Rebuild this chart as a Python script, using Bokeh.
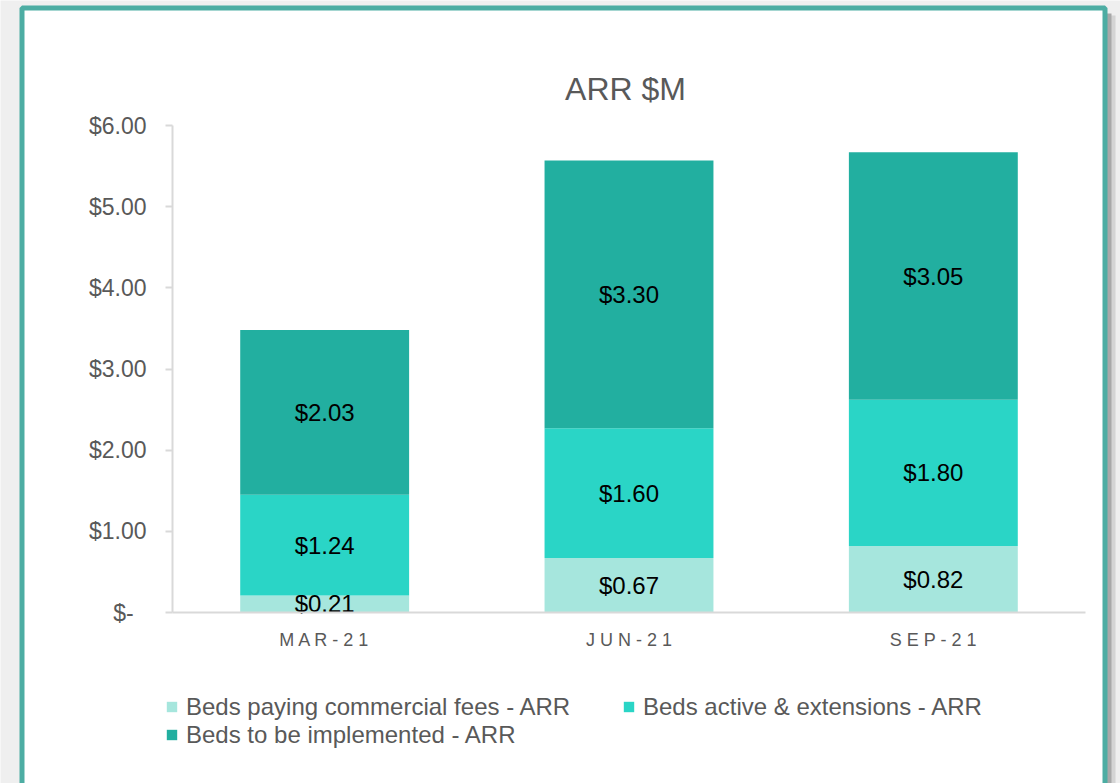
from bokeh.plotting import figure
from bokeh.models import (ColumnDataSource, Legend, LegendItem, Label, BoxAnnotation,
                          Range1d, FixedTicker)
from bokeh.embed import file_html
from bokeh.resources import INLINE
from bokeh.core.properties import value

# ---- data ----
periods = ["MAR-21", "JUN-21", "SEP-21"]
series_names = ["Beds paying commercial fees - ARR",
                "Beds active & extensions - ARR",
                "Beds to be implemented - ARR"]
paying = [0.21, 0.67, 0.82]
active = [1.24, 1.60, 1.80]
to_implement = [2.03, 3.30, 3.05]
y_ticks = [0, 1, 2, 3, 4, 5, 6]
y_tick_labels = ["$-\u00a0\u00a0", "$1.00", "$2.00", "$3.00", "$4.00", "$5.00", "$6.00"]
title_text = "ARR $M"

colors = ["#a6e6dd", "#2ad5c6", "#22afa0"]
FONT = "Liberation Sans"
GREY_TEXT = "#595959"
AXIS_GREY = "#d9d9d9"

keys = ["paying", "active", "to_implement"]
positions = list(range(len(periods)))
src = ColumnDataSource(dict(pos=positions, paying=paying, active=active,
                            to_implement=to_implement))

# ---- layout (canvas pixels) ----
W, H = 1120, 783
PL, PR, PT, PB = 172, 1085, 125, 612   # plot area inside the card
YMAX = y_ticks[-1]
n = len(periods)
px_x = (PR - PL) / n
px_y = (PB - PT) / YMAX
x_lo = -0.5 - PL / px_x
x_hi = n - 0.5 + (W - PR) / px_x
y_hi = YMAX + PT / px_y
y_lo = -(H - PB) / px_y

p = figure(width=W, height=H, x_range=Range1d(x_lo, x_hi), y_range=Range1d(y_lo, y_hi),
           output_backend="svg", toolbar_location=None,
           min_border_left=0, min_border_right=0, min_border_top=0, min_border_bottom=0)
p.title.text = ""
p.border_fill_color = "#efefef"
p.background_fill_color = "#efefef"
p.outline_line_color = None
p.xgrid.visible = False
p.ygrid.visible = False

# card with shadow and teal border (screen units, relative to the frame = canvas)
sy = lambda cy: H - cy
def box(l, r, t, b, **kw):
    return BoxAnnotation(left=l, right=r, top=sy(t), bottom=sy(b),
                         left_units="screen", right_units="screen",
                         top_units="screen", bottom_units="screen",
                         level="underlay", **kw)
p.add_layout(box(40, 1115, 15, 840, fill_color="#d4d4d4", fill_alpha=1,
                 line_color=None))
p.add_layout(box(40, 1111, 13, 840, fill_color="#a8a8a8", fill_alpha=1,
                 line_color=None))
p.add_layout(box(21.5, 1104.5, 7.5, 840, fill_color="white", fill_alpha=1,
                 line_color="#4dada3", line_alpha=1, line_width=5))

renderers = p.vbar_stack(keys, x="pos", width=0.555, color=colors, source=src,
                         line_color=None)

# data labels centred in each segment
lab_x, lab_y, lab_t = [], [], []
for i in positions:
    base = 0.0
    for vals in (paying, active, to_implement):
        v = vals[i]
        lab_x.append(i)
        lab_y.append(base + v / 2)
        lab_t.append("${:.2f}".format(v))
        base += v
lsrc = ColumnDataSource(dict(x=lab_x, y=lab_y, t=lab_t))
p.text(x="x", y="y", text="t", source=lsrc, text_align="center",
       text_baseline="middle", text_font=value(FONT), text_font_size="24px",
       text_color="black")

# axes (fixed inside the card)
p.yaxis.fixed_location = -0.5
p.yaxis.bounds = (0, YMAX)
p.yaxis.ticker = FixedTicker(ticks=y_ticks)
p.yaxis.major_label_overrides = {t: l for t, l in zip(y_ticks, y_tick_labels)}
p.yaxis.major_label_text_font = FONT
p.yaxis.major_label_text_font_size = "23px"
p.yaxis.major_label_text_color = GREY_TEXT
p.yaxis.major_label_standoff = 19
p.yaxis.axis_line_color = AXIS_GREY
p.yaxis.axis_line_width = 2
p.yaxis.major_tick_line_color = AXIS_GREY
p.yaxis.major_tick_line_width = 2
p.yaxis.major_tick_out = 7
p.yaxis.major_tick_in = 0
p.yaxis.minor_tick_line_color = None

p.xaxis.fixed_location = 0
p.xaxis.bounds = (-0.5, n - 0.5)
p.xaxis.ticker = FixedTicker(ticks=positions)
p.xaxis.major_label_overrides = {i: " ".join(c) for i, c in zip(positions, periods)}
p.xaxis.major_label_text_font = FONT
p.xaxis.major_label_text_font_size = "18px"
p.xaxis.major_label_text_color = GREY_TEXT
p.xaxis.major_label_standoff = 11
p.xaxis.axis_line_color = AXIS_GREY
p.xaxis.axis_line_width = 2
p.xaxis.major_tick_line_color = None
p.xaxis.minor_tick_line_color = None

# title
p.add_layout(Label(x=625, y=sy(88), x_units="screen", y_units="screen",
                   text=title_text, text_align="center", text_baseline="middle",
                   text_font=FONT, text_font_size="32px", text_color=GREY_TEXT))

# legend
legend = Legend(items=[LegendItem(label=nm, renderers=[r])
                       for nm, r in zip(series_names, renderers)],
                location=(165, sy(748.5)), orientation="horizontal", ncols=2,
                padding=0, spacing=0, margin=0, glyph_width=13, glyph_height=13,
                label_standoff=8, label_height=27, label_width=436,
                label_text_font=FONT, label_text_font_size="24px",
                label_text_color=GREY_TEXT, border_line_color=None,
                background_fill_alpha=0)
p.add_layout(legend)

open("out.html", "w").write(file_html(p, INLINE))
